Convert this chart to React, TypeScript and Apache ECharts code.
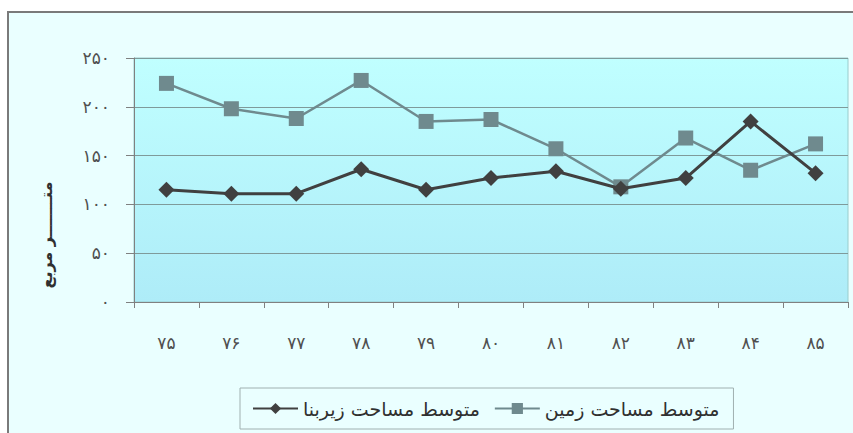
import React, { useEffect, useRef } from "react";
import * as echarts from "echarts";

const categories = ["۷۵", "۷۶", "۷۷", "۷۸", "۷۹", "۸۰", "۸۱", "۸۲", "۸۳", "۸۴", "۸۵"];
const builtAreaName = "متوسط مساحت زیربنا";
const landAreaName = "متوسط مساحت زمین";
const builtArea = [115, 111, 111, 136, 115, 127, 134, 116, 127, 185, 132];
const landArea = [224, 198, 188, 227, 185, 187, 157, 118, 168, 135, 162];
const yAxisTitle = "متـــــــر مربع";
const persianDigits = ["۰", "۱", "۲", "۳", "۴", "۵", "۶", "۷", "۸", "۹"];

const toPersian = (v: number) =>
  String(v).replace(/[0-9]/g, (d) => persianDigits[Number(d)]);

const FONT = "'DejaVu Sans', 'Noto Sans', sans-serif";

export default function App() {
  const ref = useRef<HTMLDivElement>(null);
  useEffect(() => {
    if (!ref.current) return;
    const chart = echarts.init(ref.current, null, { renderer: "svg" });
    chart.setOption({
      animation: false,
      backgroundColor: "#ffffff",
      textStyle: { fontFamily: FONT },
      graphic: [
        {
          type: "rect",
          z: -10,
          silent: true,
          shape: { x: 8, y: 12, width: 900, height: 500 },
          style: { fill: "#eaffff", stroke: "#7a7a7a", lineWidth: 2 },
        },
        {
          type: "text",
          x: 46,
          y: 235,
          rotation: Math.PI / 2,
          style: {
            text: yAxisTitle,
            fill: "#303030",
            font: `bold 16px ${FONT}`,
            align: "center",
            verticalAlign: "middle",
          },
        },
      ],
      grid: {
        left: 134,
        right: 5,
        top: 58,
        bottom: 131,
        show: true,
        borderColor: "#99cccc",
        borderWidth: 1,
        backgroundColor: new echarts.graphic.LinearGradient(0, 0, 0, 1, [
          { offset: 0, color: "#c0ffff" },
          { offset: 1, color: "#aeecf8" },
        ]),
      },
      legend: {
        left: 240,
        top: 388,
        data: [builtAreaName, landAreaName],
        itemWidth: 45,
        itemHeight: 14,
        itemGap: 14,
        padding: [11, 14, 11, 12],
        borderColor: "#a0b0b0",
        borderWidth: 1,
        backgroundColor: "#eaffff",
        textStyle: { fontSize: 19, color: "#303030", fontFamily: FONT },
      },
      xAxis: {
        type: "category",
        data: categories,
        boundaryGap: true,
        axisLine: { show: true, lineStyle: { color: "#808080", width: 1 } },
        axisTick: { show: true, length: 6, lineStyle: { color: "#808080" } },
        axisLabel: { margin: 32, fontSize: 17, color: "#505050", fontFamily: FONT },
        splitLine: { show: false },
      },
      yAxis: {
        type: "value",
        min: 0,
        max: 250,
        interval: 50,
        axisLine: { show: true, lineStyle: { color: "#808080", width: 1 } },
        axisTick: { show: true, length: 8, lineStyle: { color: "#808080" } },
        axisLabel: {
          margin: 24,
          fontSize: 17,
          color: "#505050",
          fontFamily: FONT,
          formatter: (v: number) => toPersian(v),
        },
        splitLine: { show: true, lineStyle: { color: "#7f9a9a", width: 1 } },
      },
      series: [
        {
          name: builtAreaName,
          type: "line",
          data: builtArea,
          symbol: "diamond",
          symbolSize: 16,
          z: 3,
          itemStyle: { color: "#404040" },
          lineStyle: { color: "#404040", width: 3 },
        },
        {
          name: landAreaName,
          type: "line",
          data: landArea,
          symbol: "rect",
          symbolSize: 15,
          z: 2,
          itemStyle: { color: "#6f8a8e" },
          lineStyle: { color: "#6f8a8e", width: 2.5 },
        },
      ],
    });
    return () => chart.dispose();
  }, []);
  return (
    <div
      ref={ref}
      style={{ position: "absolute", left: 0, top: 0, width: 853, height: 433 }}
    />
  );
}
